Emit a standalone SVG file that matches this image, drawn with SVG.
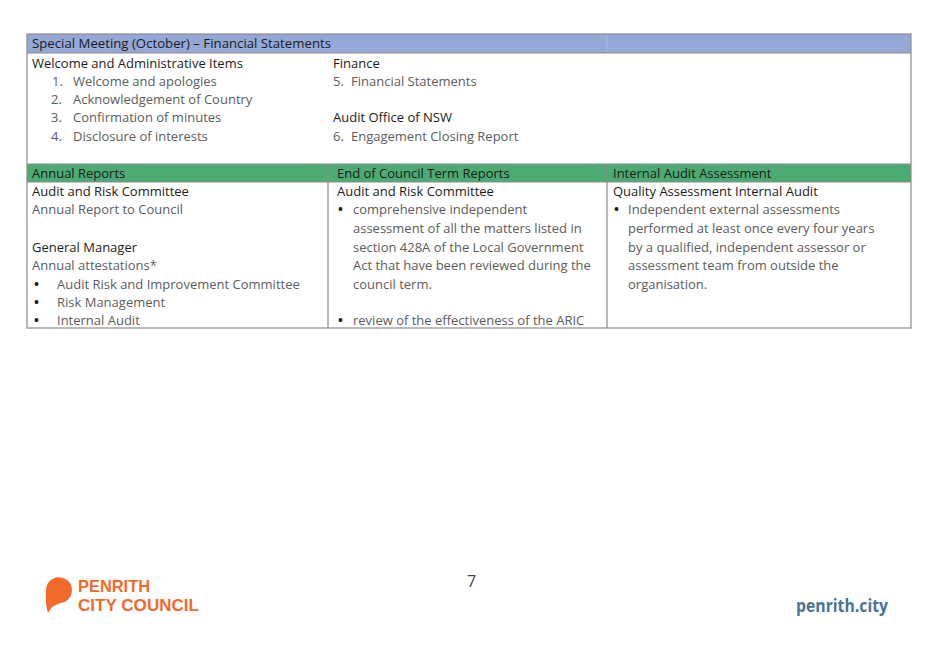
<svg xmlns="http://www.w3.org/2000/svg" width="929" height="657" viewBox="0 0 929 657">
<style>
text{font-family:"Open Sans","Liberation Sans",sans-serif;font-size:13px}
.h{fill:#1b1b1b}
.b{fill:#5c5c5c}
.d{fill:#1b1b1b;font-weight:700}
.grid{stroke:#8c8c8c;stroke-width:1.2;fill:none}
.logo{font-family:"Liberation Sans",Arial,sans-serif;font-size:16.5px;font-weight:700;fill:#f26a2a}
</style>
<rect width="929" height="657" fill="#ffffff"/>
<g id="table">
<rect x="27" y="34" width="884" height="19" fill="#95a7d6"/>
<line x1="607" y1="34" x2="607" y2="53" stroke="#a9b8e0" stroke-width="1"/>
<rect x="27" y="164" width="884" height="18" fill="#4cab72"/>
<rect class="grid" x="27" y="34" width="884" height="294"/>
<line class="grid" x1="27" y1="53" x2="911" y2="53"/>
<line class="grid" x1="27" y1="164" x2="911" y2="164"/>
<line class="grid" x1="27" y1="182" x2="911" y2="182"/>
<line class="grid" x1="328" y1="164" x2="328" y2="328"/>
<line class="grid" x1="607" y1="164" x2="607" y2="328"/>
</g>
<g id="section1">
<text class="h" x="32" y="48" textLength="299" lengthAdjust="spacingAndGlyphs">Special Meeting (October) – Financial Statements</text>
<text class="h" x="32" y="68">Welcome and Administrative Items</text>
<text class="b" x="52" y="86">1.</text><text class="b" x="73" y="86">Welcome and apologies</text>
<text class="b" x="51" y="104">2.</text><text class="b" x="73" y="104">Acknowledgement of Country</text>
<text class="b" x="51" y="122">3.</text><text class="b" x="73" y="122">Confirmation of minutes</text>
<text class="b" x="51" y="141">4.</text><text class="b" x="73" y="141">Disclosure of interests</text>
<text class="h" x="333" y="68">Finance</text>
<text class="b" x="333" y="86">5.</text><text class="b" x="351" y="86">Financial Statements</text>
<text class="h" x="333" y="122">Audit Office of NSW</text>
<text class="b" x="333" y="141">6.</text><text class="b" x="351" y="141">Engagement Closing Report</text>
</g>
<g id="annual-reports">
<text class="h" x="32" y="178">Annual Reports</text>
<text class="h" x="32" y="196">Audit and Risk Committee</text>
<text class="b" x="32" y="214">Annual Report to Council</text>
<text class="h" x="32" y="252">General Manager</text>
<text class="b" x="32" y="270">Annual attestations*</text>
<text class="d" x="34" y="289">•</text><text class="b" x="57" y="289">Audit Risk and Improvement Committee</text>
<text class="d" x="34" y="307">•</text><text class="b" x="57" y="307">Risk Management</text>
<text class="d" x="34" y="325">•</text><text class="b" x="57" y="325">Internal Audit</text>
</g>
<g id="end-of-term">
<text class="h" x="337" y="178">End of Council Term Reports</text>
<text class="h" x="337" y="196">Audit and Risk Committee</text>
<text class="d" x="338" y="214">•</text><text class="b" x="353" y="214">comprehensive independent</text>
<text class="b" x="353" y="233">assessment of all the matters listed in</text>
<text class="b" x="353" y="252">section 428A of the Local Government</text>
<text class="b" x="353" y="270">Act that have been reviewed during the</text>
<text class="b" x="353" y="289">council term.</text>
<text class="d" x="338" y="325">•</text><text class="b" x="353" y="325">review of the effectiveness of the ARIC</text>
</g>
<g id="internal-audit">
<text class="h" x="613" y="178">Internal Audit Assessment</text>
<text class="h" x="613" y="196">Quality Assessment Internal Audit</text>
<text class="d" x="614" y="214">•</text><text class="b" x="628" y="214">Independent external assessments</text>
<text class="b" x="628" y="233">performed at least once every four years</text>
<text class="b" x="628" y="252">by a qualified, independent assessor or</text>
<text class="b" x="628" y="270">assessment team from outside the</text>
<text class="b" x="628" y="289">organisation.</text>
</g>
<g id="footer">
<path d="M46,591 A13,13 0 1 1 61,603 Q52,605 48,613 Q45,604 46,591 Z" fill="#f26a2a"/>
<text class="logo" x="78" y="592" textLength="72" lengthAdjust="spacingAndGlyphs">PENRITH</text>
<text class="logo" x="78" y="611" textLength="121" lengthAdjust="spacingAndGlyphs">CITY COUNCIL</text>
<text x="467" y="587" style="font-size:16px;fill:#444">7</text>
<text x="796" y="612" style="font-size:17px;font-weight:700;fill:#4b7393" textLength="92" lengthAdjust="spacingAndGlyphs">penrith.city</text>
</g>
</svg>
